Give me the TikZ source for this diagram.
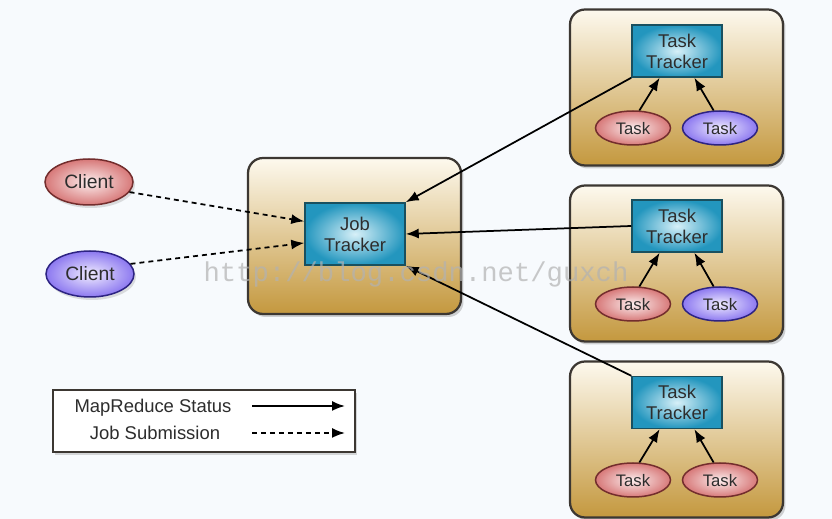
\documentclass[tikz,border=0pt]{standalone}
\usepackage{fontspec}
\setmainfont{Liberation Sans}
\newfontfamily\wmfont{Liberation Mono}
\usetikzlibrary{arrows.meta,shadows,shapes.geometric}

\definecolor{bgcol}{RGB}{247,250,253}
\definecolor{boxtop}{RGB}{253,249,238}
\definecolor{boxbot}{RGB}{196,152,62}
\definecolor{boxline}{RGB}{60,55,50}
\definecolor{trkin}{RGB}{215,240,248}
\definecolor{trkout}{RGB}{35,150,190}
\definecolor{trkline}{RGB}{25,80,95}
\definecolor{redin}{RGB}{252,238,238}
\definecolor{redout}{RGB}{215,120,120}
\definecolor{redline}{RGB}{115,45,45}
\definecolor{bluein}{RGB}{240,236,255}
\definecolor{blueout}{RGB}{140,120,240}
\definecolor{blueline}{RGB}{45,35,130}
\definecolor{txt}{RGB}{45,45,45}

\begin{document}
\begin{tikzpicture}[
            x = 0.02cm, y = -0.02cm,
            every node/.style={text depth=0pt, text=txt},
            outer/.style={draw=boxline, line width=.045cm, rounded corners=.3cm,
                minimum width=4.26cm, minimum height=3.12cm,
                top color=boxtop, bottom color=boxbot,
                drop shadow={opacity=.35, shadow xshift=.05cm, shadow yshift=-.06cm}},
            tracker/.style={draw=trkline, line width=.03cm, shading=radial,
                inner color=trkin, outer color=trkout, align=center,
                font=\fontsize{10.5}{12}\selectfont},
            redov/.style={ellipse, draw=redline, line width=.03cm, shading=radial,
                inner color=redin, outer color=redout},
            blueov/.style={ellipse, draw=blueline, line width=.03cm, shading=radial,
                inner color=bluein, outer color=blueout},
            task/.style={minimum width=1.5cm, minimum height=.68cm, inner sep=0pt,
                font=\fontsize{9.5}{11}\selectfont},
            client/.style={minimum width=1.76cm, minimum height=.92cm, inner sep=0pt,
                font=\fontsize{11}{13}\selectfont,
                drop shadow={opacity=.25, shadow xshift=.04cm, shadow yshift=-.06cm}},
            line/.style={line width = .035cm, -{Latex[length=.26cm, width=.2cm]}},
            dline/.style={line, dash pattern=on .1cm off .08cm},
            ]

        \fill[bgcol] (0,0) rectangle (832,519);
        \useasboundingbox (0,0) rectangle (832,519);

        % job tracker
        \node[outer] (jb) at (354.5,236) {};
        \node[tracker, minimum width=2cm, minimum height=1.24cm] (jt) at (355,234) {Job\\Tracker};

        % task trackers
        \node[outer] (b1) at (676.5,87.5) {};
        \node[outer] (b2) at (676.5,263.5) {};
        \node[outer] (b3) at (676.5,439.5) {};

        \node[tracker, minimum width=1.8cm, minimum height=1.04cm] (tt1) at (677,51) {Task\\Tracker};
        \node[tracker, minimum width=1.8cm, minimum height=1.04cm] (tt2) at (677,226) {Task\\Tracker};
        \node[tracker, minimum width=1.8cm, minimum height=1.04cm] (tt3) at (677,402.5) {Task\\Tracker};

        \node[redov, task] (t11) at (633,128) {Task};
        \node[blueov, task] (t12) at (720,128) {Task};
        \node[redov, task] (t21) at (633,304) {Task};
        \node[blueov, task] (t22) at (720,304) {Task};
        \node[redov, task] (t31) at (633,480) {Task};
        \node[redov, task] (t32) at (720,480) {Task};

        % clients
        \node[redov, client] (c1) at (89,182) {Client};
        \node[blueov, client] (c2) at (90,274) {Client};

        \draw[dline] (c1.-14) -- (jt.166);
        \draw[dline] (c2.14) -- (jt.190);

        \draw[line] (tt1.south west) -- (jt.north east);
        \draw[line] (tt2.west) -- (jt.east);
        \draw[line] (tt3.north west) -- (jt.south east);

        \foreach \i in {1,2,3}{
            \draw[line] (t\i1.70) -- (tt\i.-123);
            \draw[line] (t\i2.110) -- (tt\i.-57);
        }

        % legend
        \node[draw=boxline, line width=.03cm, fill=white, minimum width=6.04cm, minimum height=1.24cm,
            drop shadow={opacity=.3, shadow xshift=.04cm, shadow yshift=-.06cm}] (lg) at (204,421) {};
        \node[font=\fontsize{10.5}{12}\selectfont] (l1) at (153,406) {MapReduce Status};
        \node[font=\fontsize{10.5}{12}\selectfont] (l2) at (155,433) {Job Submission};
        \coordinate (a1) at (252,406);
        \coordinate (b1e) at (345,406);
        \coordinate (a2) at (252,433);
        \coordinate (b2e) at (345,433);
        \draw[line] (a1) -- (b1e);
        \draw[dline] (a2) -- (b2e);

        % watermark
        \node[text=gray!60, text opacity=.7, font=\wmfont\fontsize{15.5}{16}\selectfont] (wm) at (416,272) {http://blog.csdn.net/guxch};
    \end{tikzpicture}
\end{document}
